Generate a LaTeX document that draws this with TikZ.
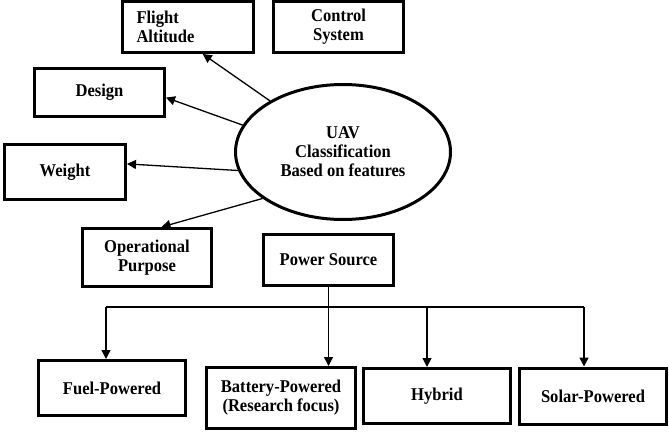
\documentclass[tikz,border=0pt]{standalone}
\usepackage{fontspec}
\setmainfont{Liberation Serif}
\newfontfamily\tnr[FakeStretch=0.92]{Liberation Serif}
\usetikzlibrary{arrows.meta,shapes.geometric,calc}
\begin{document}
\begin{tikzpicture}[x=1pt,y=-1pt,
  box/.style={draw,line width=3pt,inner sep=0pt,align=center,
    font=\tnr\bfseries\fontsize{18}{19}\selectfont},
  arr/.style={line width=1.3pt,-{Triangle[length=9pt,width=9pt]}},
  bus/.style={line width=1.3pt}]
\useasboundingbox (0,0) rectangle (669,431);
% top boxes
\node[box,minimum width=131pt,minimum height=51pt,text width=103pt,align=left,inner xsep=14pt] (fa) at (188,27) {Flight\\Altitude};
\node[box,minimum width=130pt,minimum height=51pt] (cs) at (338.5,27) {Control\\System};
\node[box,minimum width=130pt,minimum height=48pt] (des) at (99.5,92.5) {Design};
\node[box,minimum width=121pt,minimum height=55pt] (wt) at (65,172) {Weight};
\node[box,shape=ellipse,minimum width=215pt,minimum height=135pt] (ell) at (343,152) {UAV\\Classification\\Based on features};
\node[box,minimum width=129pt,minimum height=58pt] (op) at (147,257.5) {Operational\\Purpose};
\node[box,minimum width=130pt,minimum height=51pt] (ps) at (328.5,260) {Power Source};
% bottom boxes
\node[box,minimum width=147pt,minimum height=55pt] (fuel) at (112,388) {Fuel-Powered};
\node[box,minimum width=149pt,minimum height=61pt] (bat) at (281,398) {Battery-Powered\\(Research focus)};
\node[box,minimum width=147pt,minimum height=55pt] (hyb) at (437,396) {Hybrid};
\node[box,minimum width=147pt,minimum height=56pt] (sol) at (593,396) {Solar-Powered};
% arrows from ellipse
\draw[arr] (ell.145.6) -- ($(fa.south west)!0.61!(fa.south east)$);
\draw[arr] (ell.165.7) -- ($(des.north east)!0.6!(des.south east)$);
\draw[arr] (ell.190.3) -- ($(wt.north east)!0.36!(wt.south east)$);
\draw[arr] (ell.210.6) -- ($(op.north west)!0.61!(op.north east)$);
% power source tree
\coordinate (busL) at (106,307);
\coordinate (busH) at (427,307);
\coordinate (busR) at (584,307);
\draw[bus] (busL) -- (busR);
\draw[arr] (ps.south) -- (ps.south |- bat.north);
\draw[arr] (busL) -- (busL |- fuel.north);
\draw[arr] (busH) -- (busH |- hyb.north);
\draw[arr] (busR) -- (busR |- sol.north);
\end{tikzpicture}
\end{document}
